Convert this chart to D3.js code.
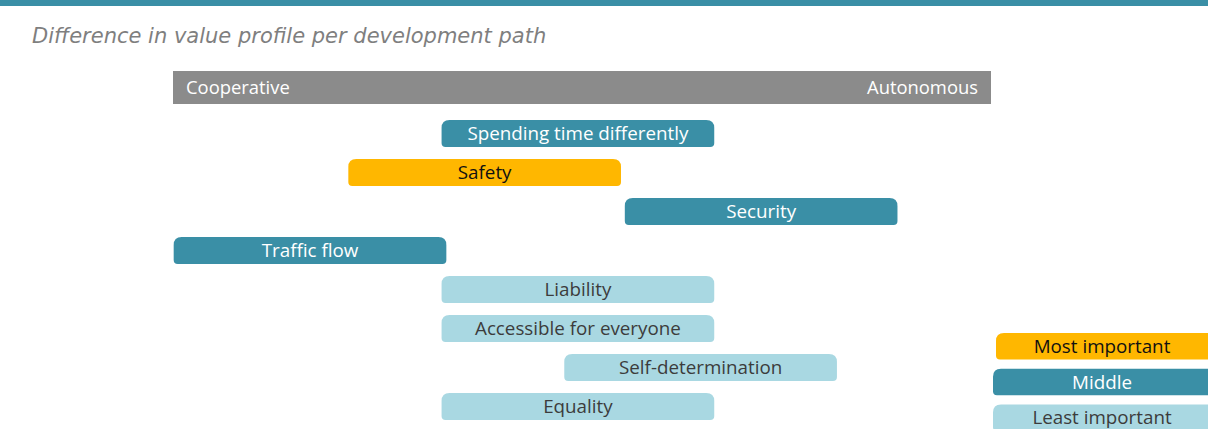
<!DOCTYPE html>
<html>
<head>
<meta charset="utf-8">
<script src="https://cdn.jsdelivr.net/npm/d3@7"></script>
<style>
  html, body { margin: 0; padding: 0; background: #fff; overflow: hidden; }
  svg { display: block; }
</style>
</head>
<body>
<div id="chart"></div>
<script>
// values
var values = ["Spending time differently", "Safety", "Security", "Traffic flow",
              "Liability", "Accessible for everyone", "Self-determination", "Equality"];
// position of the middle of each bar, 0 = cooperative, 1 = autonomous
var centers = [0.495, 0.381, 0.719, 0.1675, 0.495, 0.495, 0.645, 0.495];
var importance = ["Middle", "Most important", "Middle", "Middle",
                  "Least important", "Least important", "Least important", "Least important"];
var legendLabels = ["Most important", "Middle", "Least important"];
var pathEnds = ["Cooperative", "Autonomous"];

var w = 1208, h = 429;
var fill = { "Most important": "#ffb700", "Middle": "#3a8fa6", "Least important": "#a9d8e2" };
var ink = { "Most important": "#111", "Middle": "#fff", "Least important": "#3c3c3c" };

var svg = d3.select("#chart").append("svg")
  .attr("width", w).attr("height", h);

// scales
var x = d3.scaleLinear().domain([0, 1]).range([173, 991]);
var barW = x(1 / 3) - x(0);
var y = d3.scaleBand().domain(values).range([114, 426])
  .paddingInner(12 / 39).paddingOuter(6 / 39);

// rounded bar: top corners rounder than bottom ones
function pill(x0, y0, bw, bh) {
  var rt = 8, rb = 4;
  return "M" + (x0 + rt) + "," + y0 +
    "H" + (x0 + bw - rt) + "Q" + (x0 + bw) + "," + y0 + " " + (x0 + bw) + "," + (y0 + rt) +
    "V" + (y0 + bh - rb) + "Q" + (x0 + bw) + "," + (y0 + bh) + " " + (x0 + bw - rb) + "," + (y0 + bh) +
    "H" + (x0 + rb) + "Q" + x0 + "," + (y0 + bh) + " " + x0 + "," + (y0 + bh - rb) +
    "V" + (y0 + rt) + "Q" + x0 + "," + y0 + " " + (x0 + rt) + "," + y0 + "Z";
}

// top strip
svg.append("rect").attr("x", 0).attr("y", 0).attr("width", w).attr("height", 6)
  .attr("fill", "#3a8fa6");

// title
svg.append("text")
  .attr("x", 32).attr("y", 43)
  .attr("font-family", "DejaVu Sans")
  .attr("font-style", "italic")
  .attr("font-size", 21)
  .attr("fill", "#7f7f7f")
  .text("Difference in value profile per development path");

// header bar
svg.append("rect")
  .attr("x", x(0)).attr("y", 71).attr("width", x(1) - x(0)).attr("height", 33)
  .attr("fill", "#8b8b8b");
svg.selectAll(".end").data(pathEnds).enter().append("text")
  .attr("x", function(d, i) { return i == 0 ? x(0) + 13 : x(1) - 13; })
  .attr("y", 94)
  .attr("text-anchor", function(d, i) { return i == 0 ? "start" : "end"; })
  .attr("font-family", "Open Sans")
  .attr("font-size", 18.4)
  .attr("fill", "#fff")
  .text(function(d) { return d; });

// bars
var rows = svg.selectAll(".row").data(values).enter().append("g");
rows.append("path")
  .attr("d", function(d, i) { return pill(x(centers[i]) - barW / 2, y(d), barW, y.bandwidth()); })
  .attr("fill", function(d, i) { return fill[importance[i]]; });
rows.append("text")
  .attr("x", function(d, i) { return x(centers[i]); })
  .attr("y", function(d) { return y(d) + y.bandwidth() / 2 + 6.5; })
  .attr("text-anchor", "middle")
  .attr("font-family", "Open Sans")
  .attr("font-size", 18.8)
  .attr("fill", function(d, i) { return ink[importance[i]]; })
  .text(function(d) { return d; });

// legend
var ly = d3.scaleBand().domain(legendLabels).range([327, 437]).paddingInner(9 / 35).paddingOuter(6 / 35);
var leg = svg.selectAll(".leg").data(legendLabels).enter().append("g");
leg.append("path")
  .attr("d", function(d, i) { var x0 = i == 0 ? 996 : 993; return pill(x0, ly(d), w - x0 + 10, ly.bandwidth()); })
  .attr("fill", function(d) { return fill[d]; });
leg.append("text")
  .attr("x", 1102)
  .attr("y", function(d) { return ly(d) + ly.bandwidth() / 2 + 6.5; })
  .attr("text-anchor", "middle")
  .attr("font-family", "Open Sans")
  .attr("font-size", 18.8)
  .attr("fill", function(d) { return ink[d]; })
  .text(function(d) { return d; });
</script>
</body>
</html>
